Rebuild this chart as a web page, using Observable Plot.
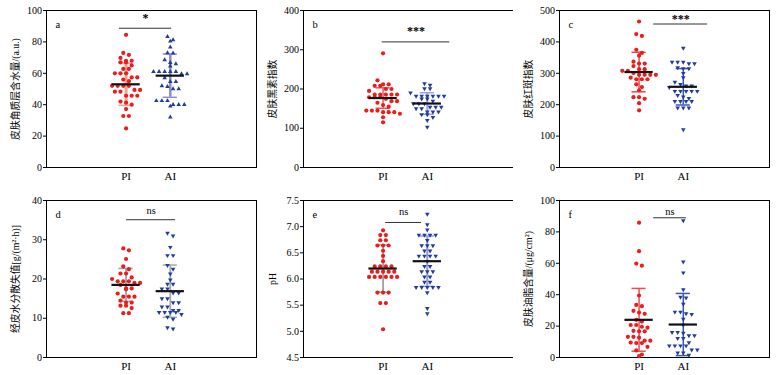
<!DOCTYPE html>
<html><head><meta charset="utf-8">
<script src="https://cdn.jsdelivr.net/npm/d3@7"></script>
<script src="https://cdn.jsdelivr.net/npm/@observablehq/plot@0.6"></script>
<style>
body{margin:0;background:#fff;width:778px;height:375px;position:relative;overflow:hidden}
.p{position:absolute}
.p svg{overflow:visible}
</style></head><body>
<script>
// ---------- data ----------
const groups = ["PI", "AI"];
const panelLetters = ["a", "b", "c", "d", "e", "f"];
const yLabels = [
  "皮肤角质层含水量/(a.u.)",
  "皮肤黑素指数",
  "皮肤红斑指数",
  "经皮水分散失值[g/(m²·h)]",
  "pH",
  "皮肤油脂含量/(μg/cm²)"
];
const yDomains = [[0, 100], [0, 400], [0, 500], [0, 40], [4.5, 7.5], [0, 100]];
const yTicks = [
  [0, 20, 40, 60, 80, 100],
  [0, 100, 200, 300, 400],
  [0, 100, 200, 300, 400, 500],
  [0, 10, 20, 30, 40],
  [4.5, 5.0, 5.5, 6.0, 6.5, 7.0, 7.5],
  [0, 20, 40, 60, 80, 100]
];
const piValues = [
  [84.5, 73, 71.7, 69.8, 68, 68, 67, 67, 65, 62.8, 62.8, 60, 60, 60, 57.4, 57.4, 56, 55, 52, 52, 52, 52, 49.4, 49.4, 48.3, 48.3, 45.7, 45.7, 45.7, 42, 41.3, 40, 37.2, 32.8, 32.8, 24.9],
  [291, 222, 212, 212, 208, 208, 200, 200, 195, 186, 186, 186, 186, 186, 179, 179, 179, 175, 169, 169, 165, 159, 155, 145, 145, 145, 141, 141, 141, 137, 128, 115],
  [465, 425, 419, 375, 365, 356, 337, 331, 331, 323, 313, 313, 308, 308, 301, 295, 295, 295, 295, 286, 281, 281, 281, 265, 256, 246, 224, 224, 219, 205, 182],
  [27.8, 27.3, 25.1, 23.2, 22.5, 21.4, 21.4, 20.4, 20, 19.4, 19.4, 19.4, 19, 19, 18.5, 17.6, 17.6, 17.4, 16.3, 15.5, 15.5, 15.5, 14.5, 14, 14, 13.2, 13.2, 12.6, 11.3, 11.3],
  [6.93, 6.84, 6.84, 6.74, 6.74, 6.64, 6.64, 6.64, 6.54, 6.44, 6.34, 6.24, 6.24, 6.24, 6.24, 6.14, 6.14, 6.14, 6.14, 6.14, 6.04, 6.04, 6.04, 6.04, 6.04, 6.04, 5.74, 5.74, 5.74, 5.54, 5.54, 5.04],
  [85.9, 67.7, 59.8, 58.5, 39.5, 33.5, 32.7, 29.7, 28.6, 27.8, 24, 22.9, 20.7, 20.7, 19.6, 19, 17, 16.7, 16.7, 13.2, 13.2, 12.6, 10.7, 10.7, 9.5, 9.2, 9.2, 6.8, 4.5, 1.9, 0.9]
];
const aiValues = [
  [83.4, 81.3, 80.4, 76.6, 73, 72.8, 68.5, 66.8, 66, 64.5, 61, 61, 61, 61, 61, 59.6, 59.6, 57, 54.7, 54.7, 52, 51.5, 50, 50, 42.5, 42.5, 42.5, 40, 40, 40, 39, 32],
  [214, 210, 201, 201, 190, 182, 182, 182, 182, 182, 182, 175, 175, 169, 163, 163, 163, 154, 154, 154, 150, 150, 142, 142, 142, 135, 135, 128, 120, 103],
  [380, 336, 336, 336, 331, 331, 318, 315, 315, 300, 286, 272, 265, 260, 260, 255, 243, 243, 243, 243, 243, 230, 225, 220, 211, 211, 211, 211, 190, 190, 190, 121],
  [31.7, 31, 28.1, 26, 26, 23.5, 22.5, 21.3, 19.8, 18.7, 18.7, 17.5, 17.5, 16.5, 16.5, 15, 15, 14, 14, 12.9, 12.9, 12, 12, 11.5, 11.5, 11.5, 11.5, 11, 10.3, 9.8, 7.6, 7.3],
  [7.24, 7.04, 6.94, 6.84, 6.84, 6.84, 6.84, 6.74, 6.64, 6.64, 6.64, 6.54, 6.54, 6.44, 6.44, 6.44, 6.44, 6.34, 6.24, 6.24, 6.14, 6.14, 6.14, 6.04, 6.04, 5.94, 5.94, 5.84, 5.84, 5.84, 5.84, 5.84, 5.74, 5.44, 5.34],
  [87.2, 60.9, 54, 43.2, 38.5, 38, 34, 29, 29, 28, 27.5, 24.4, 20.7, 16, 16, 15.5, 13.9, 13.9, 12.2, 12.2, 9.5, 7.5, 7.5, 7.5, 7.5, 4.9, 4.9, 3, 3, 1.5]
];
const means = [[53, 58.5], [177, 163], [304, 257], [18.5, 16.9], [6.2, 6.34], [24, 21]];
const sds = [[13.4, 13.8], [26, 27.5], [63, 58], [4.2, 6.65], [0.45, 0.48], [20, 19.8]];
const sigLabels = ["*", "***", "***", "ns", "ns", "ns"];
const sigY = [88.7, 320, 457, 35.1, 7.08, 89];
const sigTextY = [95, 348, 472, 37.3, 7.28, 93];
const sigX1 = [0.85, 0.98, 1.33, 1.01, 1.06, 1.33];
const sigX2 = [2.03, 2.51, 2.55, 2.12, 1.87, 2.07];

// ---------- styles ----------
const panelPos = [[0, 0], [257, 0], [513, 0], [0, 190], [257, 190], [513, 190]];
const barColors = [
  ["#f4a28e", "#8c8cd2"], ["#ea5a5a", "#a0a0e0"], ["#e84848", "#3a55b5"],
  ["#a0a0a0", "#a8a8a8"], ["#a0a0a0", "#9a9ad8"], ["#e85050", "#3a55b5"]
];
const barWidths = [[3, 2.5], [1.5, 2], [1.5, 1.5], [1.8, 1.8], [1.8, 2], [1.5, 1.5]];
const red = "#ec1c1c", blue = "#1f3c9e";
const W = 259, H = 185, mL = 46, mR = 3, mT = 10, mB = 18;
const xDom = [-0.8, 3.95];
const pxPerUnit = (W - mL - mR) / (xDom[1] - xDom[0]);
const innerH = H - mT - mB;

// Row-based scatter layout (Prism-like): near-equal values share a row, centred on the group.
function swarm(values, ydom, spacing = 5.6, rowH = 4.3) {
  const idx = values.map((v, i) => i).sort((a, b) => values[b] - values[a]);
  const off = new Array(values.length);
  const rows = [];
  let cur = null;
  for (const i of idx) {
    const py = (values[i] - ydom[0]) / (ydom[1] - ydom[0]) * innerH;
    if (!cur || cur.top - py > rowH) { cur = {top: py, items: []}; rows.push(cur); }
    cur.items.push(i);
  }
  for (const r of rows) {
    const n = r.items.length;
    r.items.forEach((i, k) => { off[i] = (k - (n - 1) / 2) * spacing; });
  }
  return off.map(o => o / pxPerUnit);
}

for (let p = 0; p < 6; p++) {
  const pts = [];
  [piValues[p], aiValues[p]].forEach((vals, g) => {
    const offs = swarm(vals, yDomains[p]);
    vals.forEach((v, i) => pts.push({group: groups[g], gx: g + 1, x: g + 1 + offs[i], y: v}));
  });
  const stats = groups.map((g, i) => ({
    group: g, gx: i + 1, mean: means[p][i],
    lo: means[p][i] - sds[p][i], hi: means[p][i] + sds[p][i],
    color: barColors[p][i], sw: barWidths[p][i]
  }));
  const capW = 0.16, meanW = 0.32;
  const marks = [
    Plot.frame({stroke: "black", strokeWidth: 1}),
    Plot.axisY(yTicks[p], {tickSize: 3, tickPadding: 1.5, label: null,
      tickFormat: p === 4 ? d3.format(".1f") : d3.format("d")}),
    Plot.axisX([1, 2], {tickSize: 0, tickPadding: 5, label: null, fontSize: 11,
      tickFormat: d => groups[d - 1]}),
    Plot.text([yLabels[p]], {text: d => d, frameAnchor: "left", textAnchor: "middle", lineAnchor: "middle",
      dx: -31, rotate: -90, fontSize: 9.8, fill: "black"}),
    Plot.text([panelLetters[p]], {text: d => d, frameAnchor: "top-left", dx: 9, dy: 10, fontSize: 10.5, fill: "black"}),
    // error bars
    ...stats.map(s => Plot.ruleX([s], {x: "gx", y1: "lo", y2: "hi", stroke: s.color, strokeWidth: s.sw})),
    ...stats.map(s => Plot.ruleY([s, s], {y: (d, i) => i ? d.hi : d.lo, x1: d => d.gx - capW, x2: d => d.gx + capW, stroke: s.color, strokeWidth: 1.5})),
    // points
    Plot.dot(pts.filter(d => d.group === "PI"), {x: "x", y: "y", r: 2.1, fill: red, stroke: "none"}),
    Plot.dot(pts.filter(d => d.group === "AI"), {x: "x", y: "y", r: 1.7, symbol: "triangle", fill: blue, stroke: "none", rotate: p === 0 ? 0 : 180}),
    // mean lines
    Plot.ruleY(stats, {y: "mean", x1: d => d.gx - meanW, x2: d => d.gx + meanW, stroke: "#111", strokeWidth: 2.2}),
    // significance
    Plot.ruleY([0], {y: () => sigY[p], x1: () => sigX1[p], x2: () => sigX2[p], stroke: "#333", strokeWidth: 1}),
    Plot.text([sigLabels[p]], {text: d => d, x: () => (sigX1[p] + sigX2[p]) / 2, y: () => sigTextY[p], fill: "black",
      fontSize: sigLabels[p] === "ns" ? 10.5 : 12, fontWeight: sigLabels[p] === "ns" ? "normal" : "bold"})
  ];
  const chart = Plot.plot({
    width: W, height: H, marginLeft: mL, marginRight: mR, marginTop: mT, marginBottom: mB,
    x: {domain: xDom},
    y: {domain: yDomains[p]},
    style: {fontFamily: "'Liberation Serif', 'Noto Sans CJK SC', serif", fontSize: "10px", color: "black", background: "white"},
    marks
  });
  const div = document.createElement("div");
  div.className = "p";
  div.style.left = panelPos[p][0] + "px";
  div.style.top = panelPos[p][1] + "px";
  div.appendChild(chart);
  document.body.appendChild(div);
}
</script>
</body></html>
